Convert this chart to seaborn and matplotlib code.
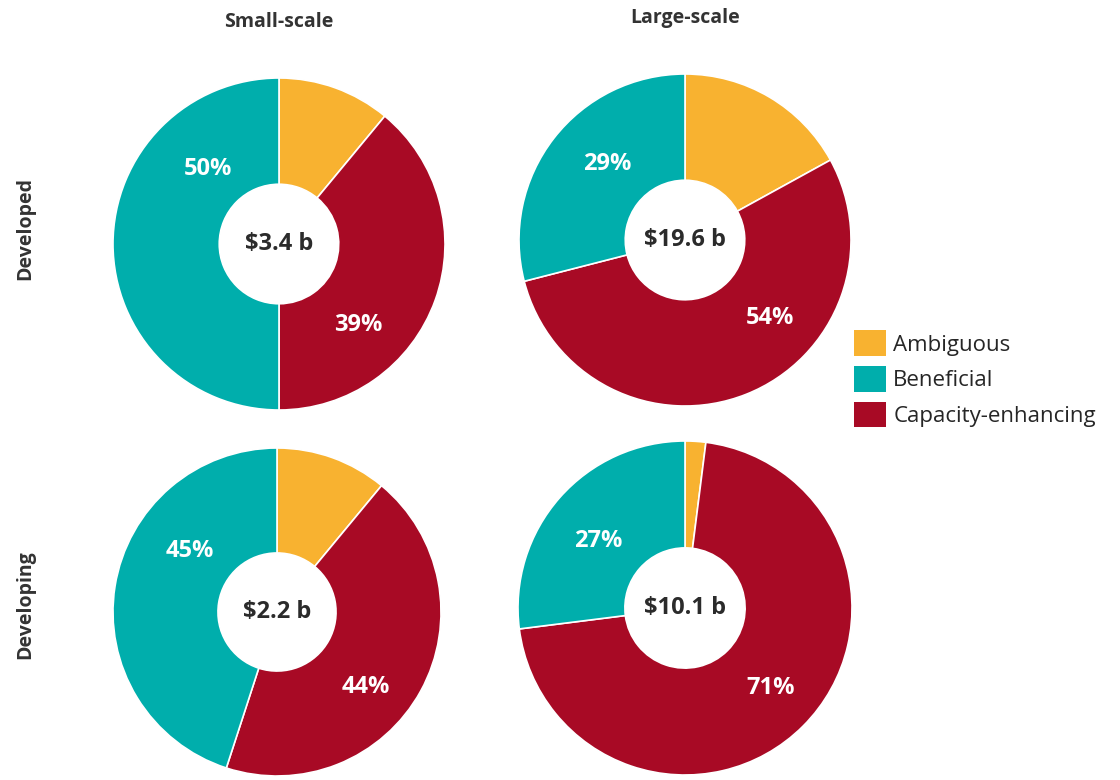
import matplotlib
matplotlib.use("Agg")
import matplotlib.pyplot as plt
import seaborn as sns
from matplotlib.patches import Patch

sns.set_theme(style="white")
plt.rcParams['font.family'] = ['Open Sans', 'DejaVu Sans']

# data (shares in %, totals in $ billion)
categories = ['Ambiguous', 'Capacity-enhancing', 'Beneficial']
legend_order = ['Ambiguous', 'Beneficial', 'Capacity-enhancing']
rows = ['Developed', 'Developing']
cols = ['Small-scale', 'Large-scale']
developed_small = [11, 39, 50]
developed_large = [17, 54, 29]
developing_small = [11, 44, 45]
developing_large = [2, 71, 27]
totals = {('Developed', 'Small-scale'): '$3.4 b', ('Developed', 'Large-scale'): '$19.6 b',
          ('Developing', 'Small-scale'): '$2.2 b', ('Developing', 'Large-scale'): '$10.1 b'}

colors = {'Ambiguous': '#F8B230', 'Beneficial': '#00AEAC', 'Capacity-enhancing': '#A80A25'}

# pixel layout: centre x, centre y, radius
W, H = 1120, 780
panels = [
    ('Developed', 'Small-scale', developed_small, (279, 244, 166)),
    ('Developed', 'Large-scale', developed_large, (685, 240, 166)),
    ('Developing', 'Small-scale', developing_small, (277, 612, 164)),
    ('Developing', 'Large-scale', developing_large, (685, 608, 167)),
]
# where the % labels sit (fraction of radius), for beneficial and capacity
label_pos = {
    ('Developed', 'Small-scale'): [(-0.43, 0.45), (0.48, -0.49)],
    ('Developed', 'Large-scale'): [(-0.47, 0.46), (0.51, -0.47)],
    ('Developing', 'Small-scale'): [(-0.53, 0.37), (0.54, -0.46)],
    ('Developing', 'Large-scale'): [(-0.52, 0.40), (0.51, -0.48)],
}

fig = plt.figure(figsize=(W / 100, H / 100), dpi=100)

for row, col, vals, (cx, cy, r) in panels:
    ax = fig.add_axes([(cx - r) / W, (H - cy - r) / H, 2 * r / W, 2 * r / H])
    ax.pie(vals, colors=[colors[c] for c in categories], startangle=90, counterclock=False,
           radius=1, wedgeprops=dict(width=0.64, edgecolor='white', linewidth=1.2))
    ax.set_xlim(-1, 1)
    ax.set_ylim(-1, 1)
    ax.axis('off')
    ax.text(0, 0, totals[(row, col)], ha='center', va='center', fontsize=17,
            fontweight='bold', color='#2b2b2b')
    ben = vals[categories.index('Beneficial')]
    cap = vals[categories.index('Capacity-enhancing')]
    for (lx, ly), v in zip(label_pos[(row, col)], [ben, cap]):
        ax.text(lx, ly, f'{v}%', ha='center', va='center', fontsize=17,
                fontweight='bold', color='white')

# column titles
fig.text(279 / W, 1 - 22 / H, 'Small-scale', ha='center', va='center', fontsize=14,
         fontweight='bold', color='#333333')
fig.text(685 / W, 1 - 18 / H, 'Large-scale', ha='center', va='center', fontsize=14,
         fontweight='bold', color='#333333')
# row titles
fig.text(25 / W, 1 - 228 / H, 'Developed', ha='center', va='center', rotation=90,
         fontsize=14, fontweight='bold', color='#333333')
fig.text(25 / W, 1 - 605 / H, 'Developing', ha='center', va='center', rotation=90,
         fontsize=14, fontweight='bold', color='#333333')

handles = [Patch(facecolor=colors[c], edgecolor='none', label=c) for c in legend_order]
fig.legend(handles=handles, loc='upper left', bbox_to_anchor=(850 / W, 1 - 326 / H),
           frameon=False, fontsize=16, handlelength=1.4, handleheight=1.4,
           handletextpad=0.35, labelspacing=0.45, borderaxespad=0, borderpad=0.2)

fig.savefig('out.png', dpi=100, facecolor='white')
